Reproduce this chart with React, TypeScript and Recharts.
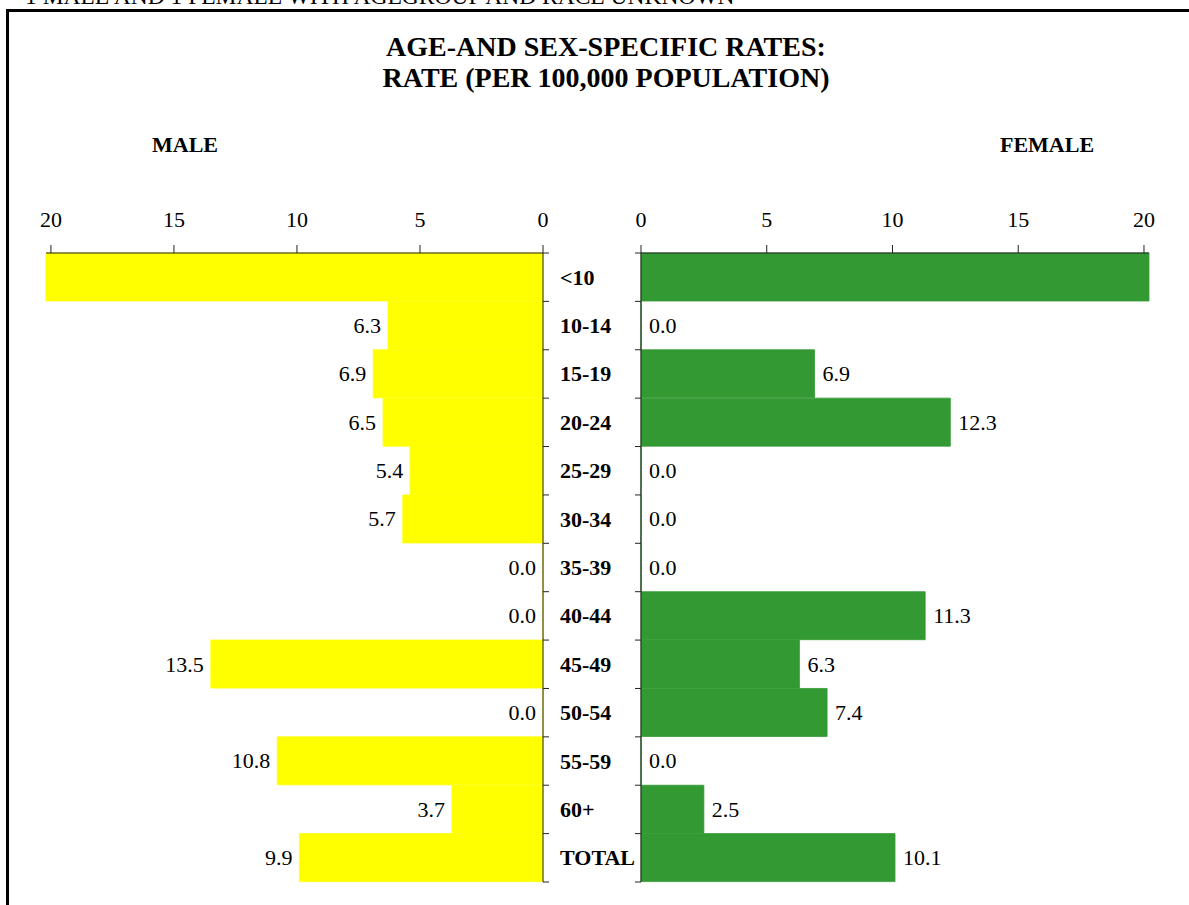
import { BarChart, Bar, XAxis, YAxis, LabelList } from 'recharts'

const ageGroups = ['<10', '10-14', '15-19', '20-24', '25-29', '30-34', '35-39', '40-44', '45-49', '50-54', '55-59', '60+', 'TOTAL']
const maleRates = [20.2, 6.3, 6.9, 6.5, 5.4, 5.7, 0.0, 0.0, 13.5, 0.0, 10.8, 3.7, 9.9]
const femaleRates = [20.2, 0.0, 6.9, 12.3, 0.0, 0.0, 0.0, 11.3, 6.3, 7.4, 0.0, 2.5, 10.1]
const rateTicks = [0, 5, 10, 15, 20]
const axisMax = 20.2

const serif = '"Liberation Serif", "Times New Roman", serif'
const axisColor = '#222'
const maleColor = '#ffff00'
const femaleColor = '#339933'

const chartData = ageGroups.map((group, i) => ({
  group,
  male: maleRates[i],
  female: femaleRates[i]
}))

// plot area runs 253..882, 13 rows
const BAND = (882 - 253) / ageGroups.length

const MaleCategoryTick = (props: any) => {
  const { y, payload, index } = props
  const axisX = 543
  const half = BAND / 2
  return (
    <g>
      <line x1={axisX} x2={axisX + 6} y1={y - half} y2={y - half} stroke={axisColor} />
      {index === ageGroups.length - 1 && (
        <line x1={axisX} x2={axisX + 6} y1={y + half} y2={y + half} stroke={axisColor} />
      )}
      <text x={560} y={y} dy={7.5} fontSize={22} fontWeight="bold" fontFamily={serif} fill="#000">
        {payload.value}
      </text>
    </g>
  )
}

const FemaleCategoryTick = (props: any) => {
  const { y, index } = props
  const axisX = 41
  const half = BAND / 2
  return (
    <g>
      <line x1={axisX - 6} x2={axisX} y1={y - half} y2={y - half} stroke={axisColor} />
      {index === ageGroups.length - 1 && (
        <line x1={axisX - 6} x2={axisX} y1={y + half} y2={y + half} stroke={axisColor} />
      )}
    </g>
  )
}

const valueLabel = (side: 'left' | 'right') => (props: any) => {
  const vb = props.viewBox ?? props
  const x = Number(vb.x ?? props.x)
  const w = Number(vb.width ?? props.width ?? 0)
  const y = Number(vb.y ?? props.y)
  const h = Number(vb.height ?? props.height ?? 0)
  const value = Number(props.value)
  // values past the axis end are not labelled
  if (value > 20) return null
  // zero bars get a tiny min size, so anchor them on the axis
  const lo = value === 0 ? (side === 'left' ? 543 : 641 - 600) : Math.min(x, x + w)
  const hi = value === 0 ? lo : Math.max(x, x + w)
  return (
    <text
      x={side === 'left' ? lo - 7 : hi + 8}
      y={y + h / 2}
      dy={7.5}
      textAnchor={side === 'left' ? 'end' : 'start'}
      fontSize={22}
      fontFamily={serif}
      fill="#000"
    >
      {value.toFixed(1)}
    </text>
  )
}

const App = () => {
  return (
    <div style={{ position: 'absolute', left: 0, top: 0, width: 1189, height: 905, overflow: 'hidden', background: '#fff' }}>
      {/* frame */}
      <div style={{ position: 'absolute', left: 6, top: 9, width: 1300, height: 1000, borderTop: '3px solid #000', borderLeft: '3px solid #000' }} />

      <svg width={1189} height={905} style={{ position: 'absolute', left: 0, top: 0 }}>
        <text x={25} y={4} fontSize={23.5} fontFamily={serif} fill="#000">1 MALE AND 1 FEMALE WITH AGEGROUP AND RACE UNKNOWN</text>
        <text x={606} y={56} textAnchor="middle" fontSize={28} fontWeight="bold" fontFamily={serif} fill="#000">AGE-AND SEX-SPECIFIC RATES:</text>
        <text x={606} y={87} textAnchor="middle" fontSize={28} fontWeight="bold" fontFamily={serif} fill="#000">RATE (PER 100,000 POPULATION)</text>
        <text x={185} y={152} textAnchor="middle" fontSize={22} fontWeight="bold" fontFamily={serif} fill="#000">MALE</text>
        <text x={1047} y={152} textAnchor="middle" fontSize={22} fontWeight="bold" fontFamily={serif} fill="#000">FEMALE</text>
      </svg>

      {/* Male side */}
      <div style={{ position: 'absolute', left: 0, top: 0 }}>
        <BarChart
          width={641}
          height={905}
          data={chartData}
          layout="vertical"
          barCategoryGap={0}
          margin={{ top: 213, right: 0, bottom: 23, left: 46 }}
        >
          <XAxis
            type="number"
            orientation="top"
            reversed
            domain={[0, axisMax]}
            ticks={rateTicks}
            height={40}
            tickSize={8}
            tickMargin={18}
            stroke={axisColor}
            tick={{ fontSize: 22, fill: '#000', fontFamily: serif }}
          />
          <YAxis
            type="category"
            dataKey="group"
            orientation="right"
            width={98}
            interval={0}
            tickLine={false}
            stroke={axisColor}
            tick={<MaleCategoryTick />}
          />
          <Bar dataKey="male" fill={maleColor} stroke={maleColor} strokeWidth={0.8} minPointSize={0.01} isAnimationActive={false}>
            <LabelList dataKey="male" content={valueLabel('left')} />
          </Bar>
        </BarChart>
      </div>

      {/* Female side */}
      <div style={{ position: 'absolute', left: 600, top: 0 }}>
        <BarChart
          width={589}
          height={905}
          data={chartData}
          layout="vertical"
          barCategoryGap={0}
          margin={{ top: 213, right: 40, bottom: 23, left: 0 }}
        >
          <XAxis
            type="number"
            orientation="top"
            domain={[0, axisMax]}
            ticks={rateTicks}
            height={40}
            tickSize={8}
            tickMargin={18}
            stroke={axisColor}
            tick={{ fontSize: 22, fill: '#000', fontFamily: serif }}
          />
          <YAxis
            type="category"
            dataKey="group"
            orientation="left"
            width={41}
            interval={0}
            tickLine={false}
            stroke={axisColor}
            tick={<FemaleCategoryTick />}
          />
          <Bar dataKey="female" fill={femaleColor} stroke={femaleColor} strokeWidth={0.8} minPointSize={0.01} isAnimationActive={false}>
            <LabelList dataKey="female" content={valueLabel('right')} />
          </Bar>
        </BarChart>
      </div>
    </div>
  )
}

export default App
